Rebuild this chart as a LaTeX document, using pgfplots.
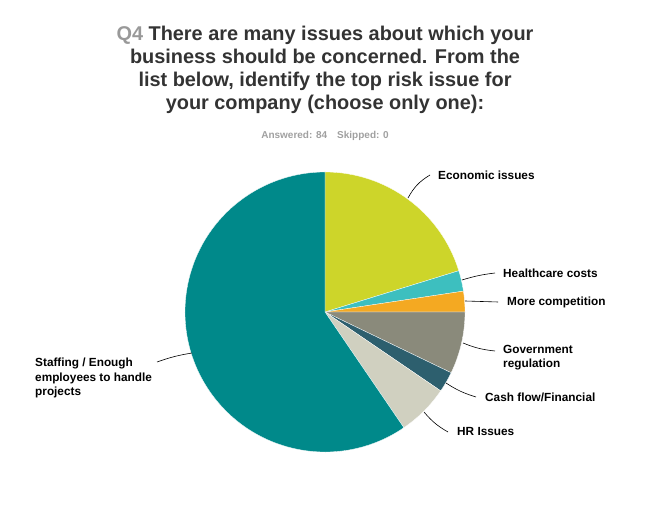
\documentclass[border=0pt]{standalone}
\usepackage{pgfplots}
\pgfplotsset{compat=1.18}
\usepackage{pgfplotstable}
\usepackage{fontspec}
\setmainfont{Liberation Sans}
\definecolor{cEcon}{HTML}{CDD52A}
\definecolor{cHealth}{HTML}{3DBFBF}
\definecolor{cComp}{HTML}{F4A922}
\definecolor{cGov}{HTML}{8A8A7B}
\definecolor{cCash}{HTML}{2D5F6E}
\definecolor{cHR}{HTML}{D0D0C0}
\definecolor{cStaff}{HTML}{00898A}
\definecolor{titlegray}{HTML}{333333}
\definecolor{qgray}{HTML}{999999}
\definecolor{subgray}{HTML}{A0A0A0}

\pgfplotstableread[col sep=comma]{
label,value,color
Economic issues,17,cEcon
Healthcare costs,2,cHealth
More competition,2,cComp
Government regulation,6,cGov
Cash flow/Financial,2,cCash
HR Issues,5,cHR
Staffing / Enough employees to handle projects,50,cStaff
}\piedata

\begin{document}
\begin{tikzpicture}[x=1pt,y=1pt]
\begin{axis}[
  hide axis, scale only axis, clip=false,
  width=650pt, height=505pt,
  xmin=0, xmax=650, ymin=0, ymax=505,
  at={(0,0)}, anchor=south west,
]
\pgfmathsetmacro{\cumval}{0}
\pgfplotstablegetrowsof{\piedata}
\pgfmathtruncatemacro{\lastrow}{\pgfplotsretval-1}
\pgfplotsforeachungrouped \i in {0,...,\lastrow}{%
  \pgfplotstablegetelem{\i}{value}\of\piedata \let\sliceval\pgfplotsretval
  \pgfplotstablegetelem{\i}{color}\of\piedata \let\slicecol\pgfplotsretval
  \pgfmathsetmacro{\angA}{90-\cumval/84*360}%
  \pgfmathsetmacro{\angB}{90-(\cumval+\sliceval)/84*360}%
  \edef\temp{\noexpand\fill[fill=\slicecol, draw=white, line width=0.3pt] (axis cs:325,193) -- ++(\angA:140pt) arc[start angle=\angA, end angle=\angB, radius=140pt] -- cycle;}%
  \temp
  \pgfmathsetmacro{\cumval}{\cumval+\sliceval}%
}

% title
\node[anchor=center, align=center, font=\bfseries\fontsize{19.9}{23.2}\selectfont, text=titlegray] at (axis cs:325,435)
 {{\color{qgray}Q4} There are many issues about which your\\business should be concerned. From the\\list below, identify the top risk issue for\\your company (choose only one):};
\node[anchor=center, font=\bfseries\fontsize{10}{12}\selectfont, text=subgray] at (axis cs:325,369)
 {Answered: 84\hspace{10pt}Skipped: 0};

% labels
\tikzset{lbl/.style={anchor=west, font=\bfseries\fontsize{11.8}{14.5}\selectfont, text=black, inner sep=0pt}}
\draw[line width=0.6pt] (axis cs:408,307) to[bend left=15] (axis cs:430,330);
\node[lbl] at (axis cs:438,330) {Economic issues};
\draw[line width=0.6pt] (axis cs:462,225) to[bend left=5] (axis cs:495,232);
\node[lbl] at (axis cs:503,232) {Healthcare costs};
\draw[line width=0.6pt] (axis cs:465,204) -- (axis cs:498,203);
\node[lbl] at (axis cs:507,203) {More competition};
\draw[line width=0.6pt] (axis cs:463,162) to[bend right=8] (axis cs:495,154);
\node[lbl, align=left, anchor=north west] at (axis cs:503,160) {Government\\regulation};
\draw[line width=0.6pt] (axis cs:446,122) to[bend right=8] (axis cs:476,108);
\node[lbl] at (axis cs:485,108) {Cash flow/Financial};
\draw[line width=0.6pt] (axis cs:424,93) to[bend right=10] (axis cs:448,73);
\node[lbl] at (axis cs:457,73) {HR Issues};
\draw[line width=0.6pt] (axis cs:192,152) to[bend right=5] (axis cs:157,143);
\node[lbl, align=left, anchor=north west] at (axis cs:35,147) {Staffing / Enough\\employees to handle\\projects};
\end{axis}
\path (0,0) rectangle (650,505);
\end{tikzpicture}
\end{document}
